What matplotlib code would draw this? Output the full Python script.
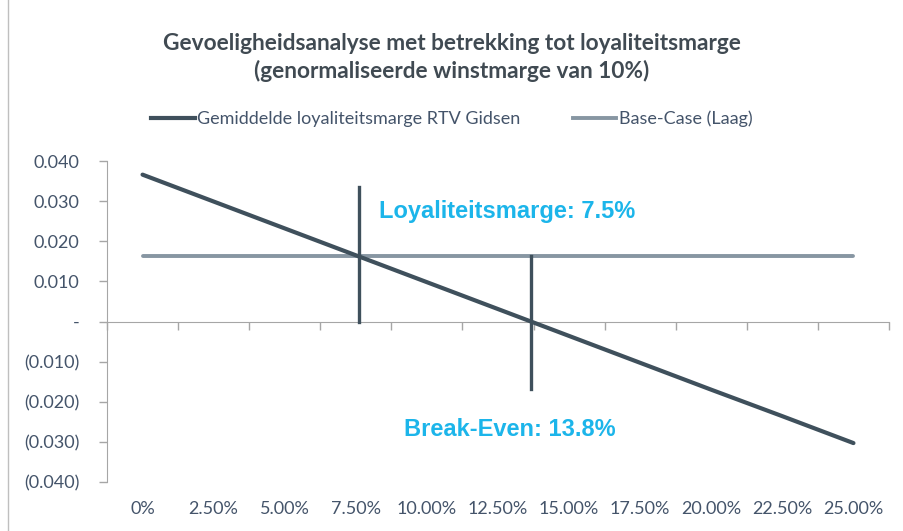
import matplotlib.pyplot as plt
from matplotlib.ticker import FuncFormatter
from matplotlib.patches import Rectangle
from matplotlib.lines import Line2D

# data
categories = ["0%", "2.50%", "5.00%", "7.50%", "10.00%", "12.50%", "15.00%",
              "17.50%", "20.00%", "22.50%", "25.00%"]
loyalty_margin = [0.0366, 0.0299, 0.0232, 0.0165, 0.0098, 0.0031,
                  -0.0036, -0.0103, -0.0170, -0.0236, -0.0303]
base_case = [0.0163] * len(categories)

# marker lines (x in category units, y range)
loyalty_x, loyalty_y = 3.05, (0.0, 0.0336)
breakeven_x, breakeven_y = 5.46, (-0.0168, 0.0164)

dark = "#3f505c"
light = "#8796a2"
axis_grey = "#a6a6a6"
text_col = "#44546a"
cyan = "#1cb5ea"

plt.rcParams['font.family'] = ['Lato', 'DejaVu Sans']

fig = plt.figure(figsize=(9.04, 5.31), dpi=100)
ax = fig.add_axes([107 / 904, 1 - 482 / 531, (889 - 107) / 904, (482 - 161) / 531])

x = list(range(len(categories)))
ax.plot(x, loyalty_margin, color=dark, lw=3.0, solid_capstyle='round', zorder=3)
ax.plot(x, base_case, color=light, lw=2.8, solid_capstyle='round', zorder=2)
ax.plot([loyalty_x, loyalty_x], loyalty_y, color=dark, lw=2.4, zorder=4)
ax.plot([breakeven_x, breakeven_x], breakeven_y, color=dark, lw=2.4, zorder=4)

ax.text(3.33, 0.0273, "Loyaliteitsmarge: 7.5%", color=cyan, fontsize=17,
        fontweight='bold', family='Liberation Sans', va='center')
ax.text(3.68, -0.0268, "Break-Even: 13.8%", color=cyan, fontsize=17,
        fontweight='bold', family='Liberation Sans', va='center')

ax.set_xlim(-0.5, len(categories) - 0.5)
ax.set_ylim(-0.04, 0.04)
ax.set_yticks([-0.04, -0.03, -0.02, -0.01, 0, 0.01, 0.02, 0.03, 0.04])


def yfmt(v, pos):
    if abs(v) < 1e-9:
        return "-"
    if v < 0:
        return f"({-v:.3f})"
    return f"{v:.3f}"


ax.yaxis.set_major_formatter(FuncFormatter(yfmt))
ax.tick_params(axis='y', colors=axis_grey, labelcolor=text_col, labelsize=13,
               length=6, width=1, pad=14)

for s in ['top', 'right']:
    ax.spines[s].set_visible(False)
ax.spines['left'].set_color(axis_grey)
ax.spines['bottom'].set_color(axis_grey)
ax.spines['bottom'].set_position(('data', 0))

ax.set_xticks([i - 0.5 for i in range(len(categories) + 1)])
ax.set_xticklabels([])
ax.tick_params(axis='x', colors=axis_grey, length=6, width=1)
for i, lab in enumerate(categories):
    ax.text(i, -0.0468, lab, color=text_col, fontsize=13, ha='center', va='center')

fig.text(0.5, 1 - 44 / 531, "Gevoeligheidsanalyse met betrekking tot loyaliteitsmarge",
         ha='center', va='center', fontsize=16.3, fontweight='bold', color="#404a52")
fig.text(0.5, 1 - 71 / 531, "(genormaliseerde winstmarge van 10%)",
         ha='center', va='center', fontsize=16.3, fontweight='bold', color="#404a52")

handles = [Line2D([], [], color=dark, lw=3.0), Line2D([], [], color=light, lw=2.8)]
fig.legend(handles, ["Gemiddelde loyaliteitsmarge RTV Gidsen", "Base-Case (Laag)"],
           loc='center', bbox_to_anchor=(0.5, 1 - 119 / 531), ncol=2, frameon=False,
           fontsize=13, labelcolor=text_col, handlelength=2.4, handletextpad=0.15,
           columnspacing=2.9)

fig.patches.append(Rectangle((8 / 904, -0.01), 1.0, 1.02, transform=fig.transFigure,
                             fill=False, edgecolor="#bfbfbf", lw=1))

fig.savefig("out.png", dpi=100)
